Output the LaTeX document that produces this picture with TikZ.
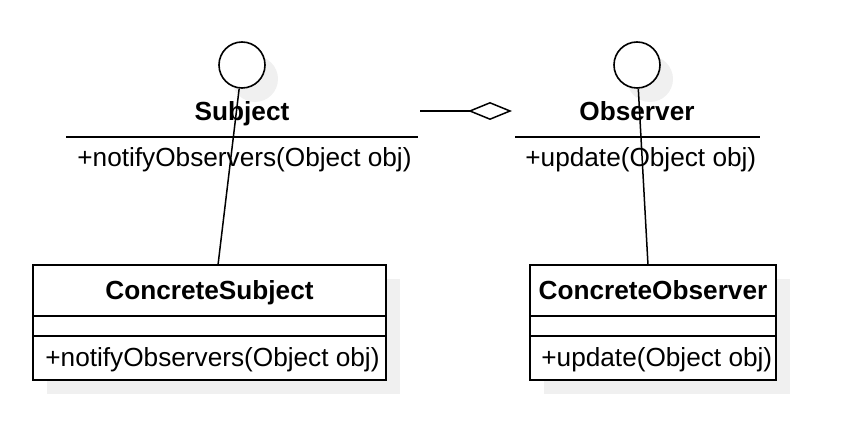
\documentclass[tikz,border=0pt]{standalone}
\usepackage{fontspec}
\setmainfont{Liberation Sans}
\usepackage{tikz}
\usetikzlibrary{calc,fit,arrows.meta}
\definecolor{shadowgray}{RGB}{240,240,240}

\begin{document}
\begin{tikzpicture}[x=0.5pt,y=-0.5pt,
  every node/.style={font=\fontsize{13.1}{16}\selectfont, inner sep=0pt},
  titletext/.style={anchor=base, font=\fontsize{13.1}{16}\selectfont\bfseries},
  iface/.style={circle, draw, fill=white, line width=0.8pt, minimum size=23pt},
  classbox/.style={draw, fill=white, line width=1pt, inner sep=0pt},
  link/.style={line width=0.75pt}]
  \useasboundingbox (0,0) rectangle (842,438);

  %% Interfaces drawn as lollipops with a bare operation list
  \foreach \nm/\cx/\lx/\rx/\tx/\title/\op in
    {Subj/242/66/418/77/Subject/{+notifyObservers(Object obj)},
     Obs/637/515/760/525/Observer/{+update(Object obj)}}
  {
    \fill[shadowgray] (\cx+13,79) circle (11.5pt);
    \node[iface] (\nm-circ) at (\cx,65) {};
    \node[titletext] (\nm-name) at (\cx,121) {\title};
    \draw[line width=1pt] (\lx,137) -- (\rx,137);
    \node[anchor=base west] (\nm-op) at (\tx,167) {\op};
  }

  %% Concrete classes as three compartment boxes
  \foreach \nm/\lx/\rx/\tx/\title/\op in
    {CSubj/33/386/45/ConcreteSubject/{+notifyObservers(Object obj)},
     CObs/530/776/541/ConcreteObserver/{+update(Object obj)}}
  {
    \fill[shadowgray] (\lx+14,279) rectangle (\rx+14,394);
    \node[classbox, fit={(\lx,265) (\rx,380)}] (\nm-box) {};
    \draw[line width=1pt] (\lx,316) -- (\rx,316);
    \draw[line width=1pt] (\lx,336) -- (\rx,336);
    \node[titletext] (\nm-name) at ($(\lx,300)!0.5!(\rx,300)$) {\title};
    \node[anchor=base west] (\nm-op) at (\tx,367) {\op};
  }

  %% Realisation links from the circles down to the boxes
  \coordinate (CSubj-top) at (218,265);
  \coordinate (CObs-top) at (648,265);
  \draw[link] (Subj-circ) -- (CSubj-top);
  \draw[link] (Obs-circ) -- (CObs-top);

  %% Aggregation between the two interfaces
  \coordinate (AggFrom) at (420,111);
  \coordinate (AggTo) at (512,111);
  \draw[link, -{Diamond[open, length=22pt, width=9pt]}] (AggFrom) -- (AggTo);
\end{tikzpicture}
\end{document}
